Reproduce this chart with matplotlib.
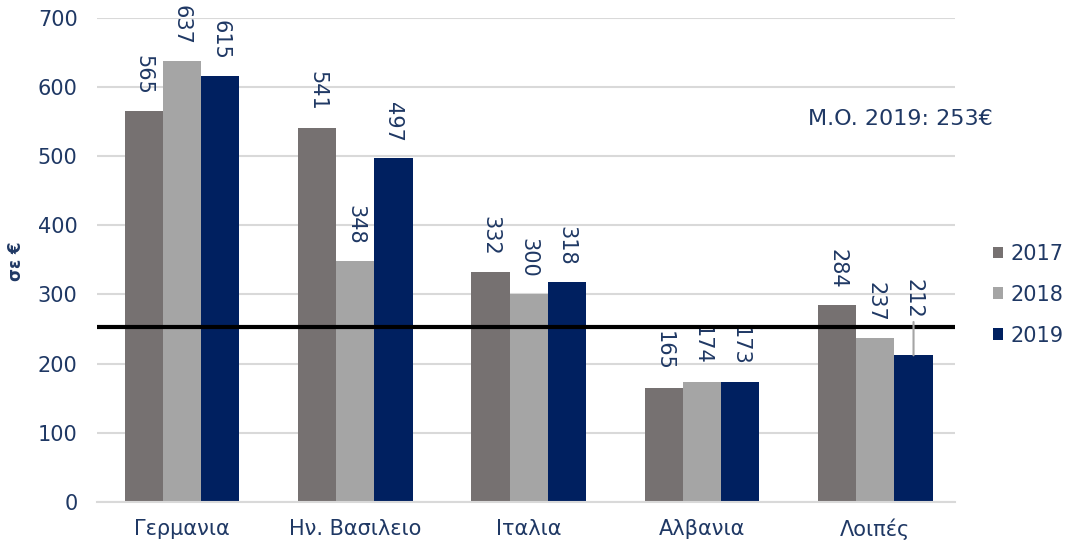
import matplotlib.pyplot as plt
import numpy as np

# δεδομένα
categories = ["Γερμανια", "Ην. Βασιλειο", "Ιταλια", "Αλβανια", "Λοιπές"]
years = ["2017", "2018", "2019"]
v2017 = [565, 541, 332, 165, 284]
v2018 = [637, 348, 300, 174, 237]
v2019 = [615, 497, 318, 173, 212]
mean_2019 = 253

colors = ["#767171", "#A5A5A5", "#002060"]
navy = "#1F3864"

fig = plt.figure(figsize=(10.66, 5.43), dpi=100)
ax = fig.add_axes([0.091, 0.0755, 0.805, 0.892])

x = np.arange(len(categories))
w = 0.22
series = [v2017, v2018, v2019]

for i, (vals, c, yr) in enumerate(zip(series, colors, years)):
    pos = x + (i - 1) * w
    ax.bar(pos, vals, width=w, color=c, label=yr, zorder=2)
    for p, v, cat in zip(pos, vals, categories):
        if cat == "Λοιπές" and yr == "2019":
            # ετικέτα με γραμμή οδηγό
            ax.annotate(str(v), xy=(p, v), xytext=(0, 26), textcoords="offset points",
                        rotation=270, ha="center", va="bottom", fontsize=15, color=navy,
                        arrowprops=dict(arrowstyle="-", color="#A5A5A5", lw=1.5,
                                        shrinkA=0, shrinkB=0), zorder=4)
        else:
            ax.annotate(str(v), xy=(p, v), xytext=(0, 12), textcoords="offset points",
                        rotation=270, ha="center", va="bottom", fontsize=15, color=navy)

# γραμμή μέσου όρου
ax.axhline(mean_2019, color="black", lw=3, zorder=3)
ax.text(3.613, 553, "M.O. 2019: 253€", fontsize=16, color=navy, ha="left", va="center")

ax.set_xlim(-0.49, 4.46)
ax.set_ylim(0, 700)
ax.set_yticks(np.arange(0, 701, 100))
ax.yaxis.grid(True, color="#D9D9D9", lw=1.5, zorder=0)
ax.set_axisbelow(True)
for s in ["left", "right", "top"]:
    ax.spines[s].set_visible(False)
ax.spines["bottom"].set_color("#D9D9D9")
ax.spines["bottom"].set_linewidth(1.5)
ax.tick_params(axis="both", length=0, colors=navy, labelsize=15)
ax.tick_params(axis="y", pad=14)
ax.tick_params(axis="x", pad=12)
ax.set_xticks(x)
ax.set_xticklabels(categories, fontsize=15)

# τίτλος άξονα y
fig.text(16 / 1066, 1 - 261 / 543, "σε €", rotation=90, ha="center", va="center",
         fontsize=12, fontweight="bold", color=navy)

leg = ax.legend(loc="center left", bbox_to_anchor=(1.044, 0.428), frameon=False,
                fontsize=15, handlelength=0.5, handleheight=0.5, handletextpad=0.35,
                labelspacing=1.0, labelcolor=navy, borderpad=0, borderaxespad=0)

fig.savefig("out.png", dpi=100)
